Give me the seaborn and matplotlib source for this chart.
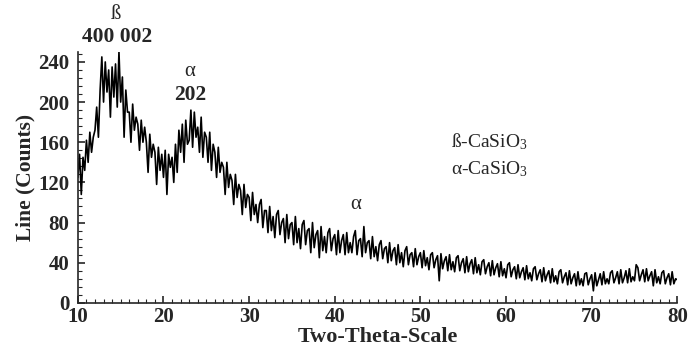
import numpy as np
import pandas as pd
import matplotlib
matplotlib.use("Agg")
import matplotlib.pyplot as plt
from matplotlib.ticker import MultipleLocator
import seaborn as sns

# XRD scan, 0.2 deg steps from 10 to 80
step = 0.2
counts = [
    125, 148, 108, 145, 132,   # 10
    162, 140, 170, 150, 165,   # 11
    172, 195, 165, 212, 245,   # 12
    200, 240, 210, 232, 185,   # 13
    235, 205, 238, 195, 250,   # 14
    200, 225, 165, 212, 190,   # 15
    190, 160, 198, 172, 185,   # 16
    178, 152, 182, 160, 175,   # 17
    160, 130, 168, 145, 158,   # 18
    150, 118, 155, 132, 148,   # 19
    125, 152, 108, 148, 135,   # 20
    145, 120, 158, 130, 172,   # 21
    150, 178, 140, 182, 158,   # 22
    162, 192, 155, 190, 165,   # 23
    175, 150, 185, 145, 170,   # 24
    165, 140, 170, 132, 158,   # 25
    150, 125, 155, 130, 140,   # 26
    135, 108, 140, 115, 128,   # 27
    122, 98, 128, 105, 118,    # 28
    112, 88, 118, 95, 108,     # 29
    105, 82, 110, 88, 98,      # 30
    80, 98, 103, 75, 92,       # 31
    92, 70, 96, 72, 86,        # 32
    65, 88, 92, 68, 80,        # 33
    84, 60, 88, 64, 78,        # 34
    80, 58, 86, 60, 74,        # 35
    54, 78, 82, 58, 72,        # 36
    74, 50, 80, 55, 68,        # 37
    72, 45, 76, 52, 66,        # 38
    50, 70, 74, 52, 64,        # 39
    68, 48, 72, 50, 62,        # 40
    68, 48, 70, 50, 60,        # 41
    50, 66, 72, 48, 62,        # 42
    64, 46, 76, 50, 60,        # 43
    62, 44, 66, 46, 56,        # 44
    42, 58, 62, 44, 54,        # 45
    56, 40, 60, 42, 52,        # 46
    55, 38, 58, 40, 50,        # 47
    36, 52, 56, 38, 48,        # 48
    50, 36, 54, 38, 46,        # 49
    50, 35, 52, 37, 45,        # 50
    33, 48, 50, 35, 43,        # 51
    47, 22, 49, 34, 42,        # 52
    46, 32, 48, 33, 41,        # 53
    31, 45, 47, 32, 40,        # 54
    44, 30, 46, 31, 39,        # 55
    43, 29, 45, 30, 38,        # 56
    28, 41, 43, 29, 36,        # 57
    40, 27, 42, 28, 35,        # 58
    39, 26, 41, 27, 34,        # 59
    25, 38, 40, 26, 33,        # 60
    36, 24, 38, 25, 31,        # 61
    35, 23, 37, 24, 30,        # 62
    22, 34, 36, 23, 29,        # 63
    33, 21, 35, 22, 28,        # 64
    32, 20, 34, 21, 27,        # 65
    19, 31, 33, 20, 26,        # 66
    30, 18, 32, 19, 25,        # 67
    29, 17, 31, 18, 24,        # 68
    17, 29, 30, 18, 24,        # 69
    28, 12, 30, 17, 23,        # 70
    29, 18, 31, 19, 24,        # 71
    19, 30, 32, 20, 25,        # 72
    31, 19, 33, 20, 25,        # 73
    32, 20, 34, 21, 26,        # 74
    22, 38, 35, 22, 28,        # 75
    33, 21, 34, 22, 27,        # 76
    31, 17, 33, 20, 26,        # 77
    19, 30, 32, 19, 25,        # 78
    29, 18, 31, 19, 24,        # 79
    23,                        # 80
]
two_theta = np.round(10 + step * np.arange(len(counts)), 1)

peak_labels = [("ß", 14.4, 287, "normal", 15), ("400 002", 14.6, 265, "bold", 15.5),
               ("α", 23.1, 230, "normal", 15), ("202", 23.1, 207, "bold", 15.5),
               ("α", 42.5, 98, "normal", 15)]
phase_labels = ["ß-CaSiO$\\mathregular{_3}$", "α-CaSiO$\\mathregular{_3}$"]

df = pd.DataFrame({"two_theta": two_theta, "counts": counts})

sns.set_style("ticks")
plt.rcParams["font.family"] = ["Liberation Serif", "DejaVu Serif"]
plt.rcParams["mathtext.fontset"] = "custom"
plt.rcParams["mathtext.rm"] = "Liberation Serif"

fig = plt.figure(figsize=(6.89, 3.53), dpi=100)
ax = fig.add_axes([0.113, 0.142, 0.870, 0.711])

sns.lineplot(data=df, x="two_theta", y="counts", ax=ax, color="black",
             linewidth=1.2, estimator=None)

ax.set_xlim(10, 80)
ax.set_ylim(0, 250)
ax.set_xticks(range(10, 81, 10))
ax.set_yticks(range(0, 241, 40))
ax.xaxis.set_minor_locator(MultipleLocator(1))
ax.yaxis.set_minor_locator(MultipleLocator(8))
ax.tick_params(which="major", direction="in", length=5, width=1.2, labelsize=15)
ax.tick_params(which="minor", direction="in", length=3, width=0.8)
for lab in ax.get_xticklabels() + ax.get_yticklabels():
    lab.set_fontweight("bold")
ax.tick_params(axis="x", pad=3)
ax.tick_params(axis="y", pad=6)

ax.set_xlabel("Two-Theta-Scale", fontsize=16, fontweight="bold", labelpad=0)
ax.set_ylabel("Line (Counts)", fontsize=15.5, fontweight="bold", labelpad=2)

sns.despine(ax=ax)
for s in ("left", "bottom"):
    ax.spines[s].set_linewidth(1.2)

for txt, x, y, w, fs in peak_labels:
    ax.text(x, y, txt, ha="center", va="center", fontsize=fs, fontweight=w,
            clip_on=False)

ax.text(53.6, 161, phase_labels[0], ha="left", va="center", fontsize=14)
ax.text(53.6, 133, phase_labels[1], ha="left", va="center", fontsize=14)

fig.savefig("out.png", dpi=100)
